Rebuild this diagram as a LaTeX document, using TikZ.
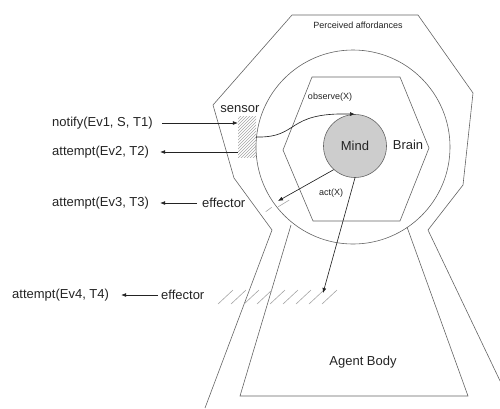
\documentclass[tikz,border=0pt]{standalone}
\usepackage{fontspec}
\setmainfont{Liberation Sans}
\usetikzlibrary{arrows.meta,patterns}
\definecolor{linegray}{RGB}{100,100,100}
\definecolor{hatchgray}{RGB}{165,165,165}
\definecolor{mindgray}{RGB}{205,205,205}
\definecolor{inkgray}{RGB}{35,35,35}
\begin{document}
\begin{tikzpicture}[x=1pt,y=-1pt,
  outline/.style={draw=linegray,line width=0.6pt,line join=miter},
  arr/.style={draw=inkgray,line width=0.65pt,-{Latex[length=5pt,width=4pt]}},
  lbl/.style={inner sep=0pt,text=inkgray,font=\fontsize{13}{15}\selectfont},
  small/.style={inner sep=0pt,text=inkgray,font=\fontsize{9}{11}\selectfont},
  slash/.style={draw=hatchgray,line width=0.6pt}]
\useasboundingbox (0,0) rectangle (500,408);
\clip (0,0) rectangle (500,408);

% head outline with its neck, and the two legs of the body
\draw[outline] (205,408) -- (272,230) -- (234,178) -- (213,105) -- (292,15)
  -- (418,15) -- (473,93) -- (463,185) -- (428,230) -- (513,408);

% perceived-affordances circle
\draw[outline] (353,147) circle[radius=97];

% agent body trapezoid (hangs from the circle)
\draw[outline] (291,225) -- (240,396) -- (468,396) -- (407,227);

% brain hexagon
\draw[outline] (312,77) -- (400,77) -- (429,148) -- (400,221) -- (313,221) -- (283,150) -- cycle;

% sensor patch
\node[draw=none,pattern=north east lines,pattern color=hatchgray,
  minimum width=18pt,minimum height=41pt,inner sep=0pt] (sens) at (247,136.5) {};

% effector marks
\draw[slash] (265.7,211.7) -- (271.7,207.3);
\draw[slash] (278.3,206.7) -- (289.3,200);
\foreach \k in {0,...,8}
  \draw[slash] ({218+13*\k},304) -- ({233+13*\k},290);

% mind
\node[circle,draw=linegray,fill=mindgray,line width=0.6pt,minimum size=63pt,inner sep=0pt,
  text=inkgray,font=\fontsize{13}{15}\selectfont] (mind) at (355,146) {Mind};

% labels
\node[small] (aff) at (358,25) {Perceived affordances};
\node[lbl] (brain) at (408,145) {Brain};
\node[small] (obs) at (330,97) {observe(X)};
\node[small] (act) at (331,193) {act(X)};
\node[lbl] (sensor) at (240,109) {sensor};
\node[lbl] (body) at (363,362) {Agent Body};

\node[lbl,anchor=west] (notify) at (52,123) {notify(Ev1, S, T1)};
\node[lbl,anchor=west] (att2) at (52,152) {attempt(Ev2, T2)};
\node[lbl,anchor=west] (att3) at (52,203) {attempt(Ev3, T3)};
\node[lbl,anchor=west] (att4) at (12,295) {attempt(Ev4, T4)};
\node[lbl,anchor=west] (eff1) at (202,203) {effector};
\node[lbl,anchor=west] (eff2) at (161,295) {effector};

% internal connectors
\coordinate (actend) at (278,201);
\coordinate (bodyend) at (323,293);
\draw[arr] (sens.east |- 0,137) .. controls (300,138) and (285,112) .. (mind.north);
\draw[arr] (mind.228) -- (actend);
\draw[arr] (mind.south) -- (bodyend);

% external connectors
\draw[arr] ([xshift=9pt]notify.east) -- (sens.west |- notify.east);
\draw[arr] (sens.west |- att2.east) -- ([xshift=11pt]att2.east);
\draw[arr] ([xshift=-5pt]eff1.west) -- ([xshift=11pt]att3.east);
\draw[arr] ([xshift=-3pt]eff2.west) -- ([xshift=12pt]att4.east);
\end{tikzpicture}
\end{document}
